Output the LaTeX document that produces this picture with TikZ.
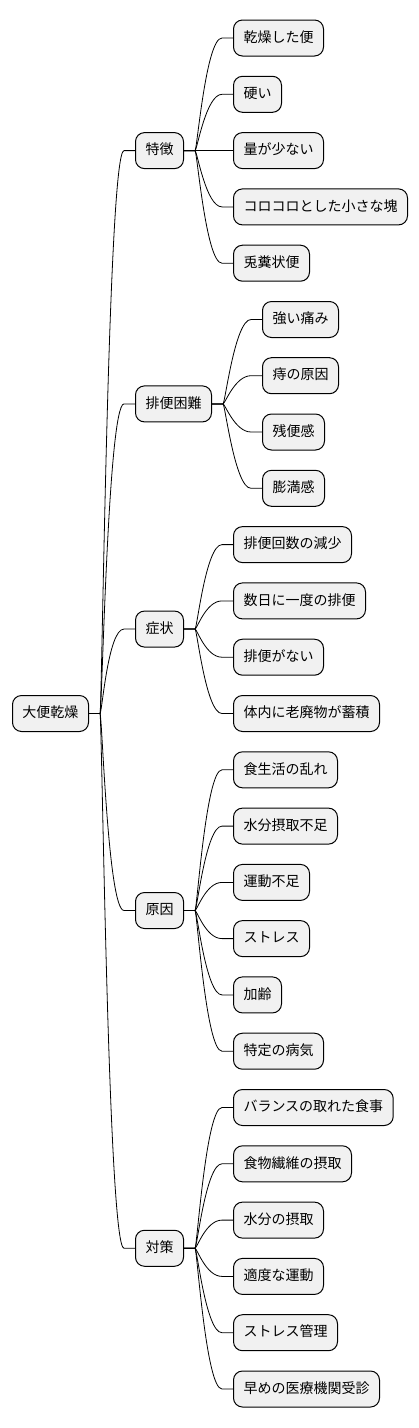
\documentclass[tikz,border=0pt]{standalone}
\usepackage{fontspec}
\newfontfamily\jp{Noto Sans CJK JP}
\usetikzlibrary{calc}
\definecolor{boxfill}{HTML}{F1F1F1}
\tikzset{
  mm/.style={draw=black, line width=1pt, fill=boxfill, rounded corners=9pt,
    font=\jp\fontsize{14}{16}\selectfont, inner xsep=10pt, inner ysep=0pt,
    minimum height=36pt, text height=11pt, text depth=2.5pt, anchor=west},
  link/.style={draw=black, line width=0.8pt}
}
\newcommand{\mmlink}[2]{\draw[link] (#1.east) -- ++(11,0) .. controls +(2,0) and +(-16,0) .. ($(#2.west)+(-11,0)$) -- (#2.west);}
\begin{document}
\begin{tikzpicture}[x=1pt,y=-1pt]
\useasboundingbox (0,0) rectangle (418,1428);
\node[mm] (root) at (12,713.5) {大便乾燥};
\node[mm] (p1) at (135,150.6) {特徴};
\node[mm] (p2) at (135,403.9) {排便困難};
\node[mm] (p3) at (135,629.05) {症状};
\node[mm] (p4) at (135,910.5) {原因};
\node[mm] (p5) at (135,1248.25) {対策};
% 特徴
\node[mm] (a1) at (233,38.0) {乾燥した便};
\node[mm] (a2) at (233,94.3) {硬い};
\node[mm] (a3) at (233,150.6) {量が少ない};
\node[mm] (a4) at (233,206.9) {コロコロとした小さな塊};
\node[mm] (a5) at (233,263.2) {兎糞状便};
% 排便困難
\node[mm] (b1) at (262,319.5) {強い痛み};
\node[mm] (b2) at (262,375.7) {痔の原因};
\node[mm] (b3) at (262,432.0) {残便感};
\node[mm] (b4) at (262,488.3) {膨満感};
% 症状
\node[mm] (c1) at (233,544.6) {排便回数の減少};
\node[mm] (c2) at (233,600.9) {数日に一度の排便};
\node[mm] (c3) at (233,657.2) {排便がない};
\node[mm] (c4) at (233,713.5) {体内に老廃物が蓄積};
% 原因
\node[mm] (d1) at (233,769.8) {食生活の乱れ};
\node[mm] (d2) at (233,826.1) {水分摂取不足};
\node[mm] (d3) at (233,882.4) {運動不足};
\node[mm] (d4) at (233,938.6) {ストレス};
\node[mm] (d5) at (233,994.9) {加齢};
\node[mm] (d6) at (233,1051.2) {特定の病気};
% 対策
\node[mm] (e1) at (233,1107.5) {バランスの取れた食事};
\node[mm] (e2) at (233,1163.8) {食物繊維の摂取};
\node[mm] (e3) at (233,1220.1) {水分の摂取};
\node[mm] (e4) at (233,1276.4) {適度な運動};
\node[mm] (e5) at (233,1332.7) {ストレス管理};
\node[mm] (e6) at (233,1389.0) {早めの医療機関受診};
\foreach \p in {p1,p2,p3,p4,p5} {\mmlink{root}{\p}}
\foreach \c in {a1,a2,a3,a4,a5} {\mmlink{p1}{\c}}
\foreach \c in {b1,b2,b3,b4} {\mmlink{p2}{\c}}
\foreach \c in {c1,c2,c3,c4} {\mmlink{p3}{\c}}
\foreach \c in {d1,d2,d3,d4,d5,d6} {\mmlink{p4}{\c}}
\foreach \c in {e1,e2,e3,e4,e5,e6} {\mmlink{p5}{\c}}
\end{tikzpicture}
\end{document}
